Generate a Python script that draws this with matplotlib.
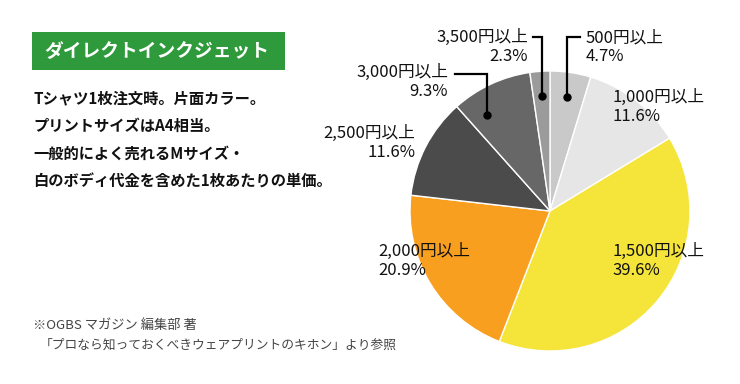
import numpy as np
import matplotlib
matplotlib.use("Agg")
import matplotlib.pyplot as plt
from matplotlib.patches import Rectangle

plt.rcParams['font.family'] = ['Noto Sans CJK JP', 'DejaVu Sans']

# data (clockwise from 12 o'clock)
categories = ["500円以上", "1,000円以上", "1,500円以上", "2,000円以上",
              "2,500円以上", "3,000円以上", "3,500円以上"]
shares = [4.7, 11.6, 39.6, 20.9, 11.6, 9.3, 2.3]
colors = ["#c9c9c9", "#e6e6e6", "#f5e53b", "#f89f20", "#4b4b4b", "#676767", "#9b9b9b"]

title = "ダイレクトインクジェット"
notes = ["Tシャツ1枚注文時。片面カラー。",
         "プリントサイズはA4相当。",
         "一般的によく売れるMサイズ・",
         "白のボディ代金を含めた1枚あたりの単価。"]
source = ["※OGBS マガジン 編集部 著",
          "「プロなら知っておくべきウェアプリントのキホン」より参照"]

W, H = 740, 384
CX, CY, R = 550, 211, 140

fig = plt.figure(figsize=(W / 100, H / 100), dpi=100)
fig.patch.set_facecolor("white")


def fx(x, y):
    return x / W, 1 - y / H


# pie axes, square, radius R px
ax = fig.add_axes([(CX - R) / W, 1 - (CY + R) / H, 2 * R / W, 2 * R / H])
ax.pie(shares, colors=colors, startangle=90, counterclock=False,
       wedgeprops=dict(edgecolor="white", linewidth=1.0))
ax.set_xlim(-1, 1)
ax.set_ylim(-1, 1)
ax.set_aspect("equal")
ax.axis("off")


def to_data(px, py):
    return (px - CX) / R, (CY - py) / R


cum = np.concatenate([[0], np.cumsum(shares)]) / 100.0


def dot_pos(i, f, r=0.82):
    th = np.deg2rad(90 - 360 * (cum[i] + f * shares[i] / 100.0))
    return r * np.cos(th), r * np.sin(th)


def leader(i, f, corner_y, end_x):
    dx, dy = dot_pos(i, f)
    _, cy = to_data(0, corner_y)
    ex, _ = to_data(end_x, 0)
    ax.plot([dx, dx, ex], [dy, cy, cy], color="black", lw=1.6,
            clip_on=False, solid_joinstyle="miter")
    ax.plot(dx, dy, "o", color="black", ms=5, clip_on=False)


leader(0, 0.5, 37, 580)
leader(6, 0.5, 37, 533)
leader(5, 0.26, 74, 455)

# slice labels
lab_fs = 12


def slice_label(i, x, y, ha="left"):
    fig.text(*fx(x, y), categories[i] + "\n" + f"{shares[i]}%",
             ha=ha, va="center", multialignment=ha, fontsize=lab_fs,
             linespacing=1.15, color="#111111")


slice_label(0, 586, 47)
slice_label(6, 528, 47, ha="right")
slice_label(5, 448, 82, ha="right")
slice_label(1, 612, 107)
slice_label(4, 415, 143, ha="right")
slice_label(2, 612, 261)
slice_label(3, 378, 261)

# title box
fig.add_artist(Rectangle(fx(32, 70), (285 - 32) / W, (70 - 32) / H,
                         transform=fig.transFigure, facecolor="#2e9a3b",
                         edgecolor="none"))
fig.text(*fx(157, 51), title, ha="center", va="center", color="white",
         fontsize=13.5, fontweight="bold")

# notes
for k, line in enumerate(notes):
    fig.text(*fx(33, 98 + k * 28), line, ha="left", va="center",
             fontsize=11, fontweight="bold", color="#111111")

# source
fig.text(*fx(33, 325), source[0], ha="left", va="center", fontsize=9.5, color="#444444")
fig.text(*fx(40, 345), source[1], ha="left", va="center", fontsize=9.2, color="#444444")

fig.savefig("out.png", dpi=100, facecolor="white")
